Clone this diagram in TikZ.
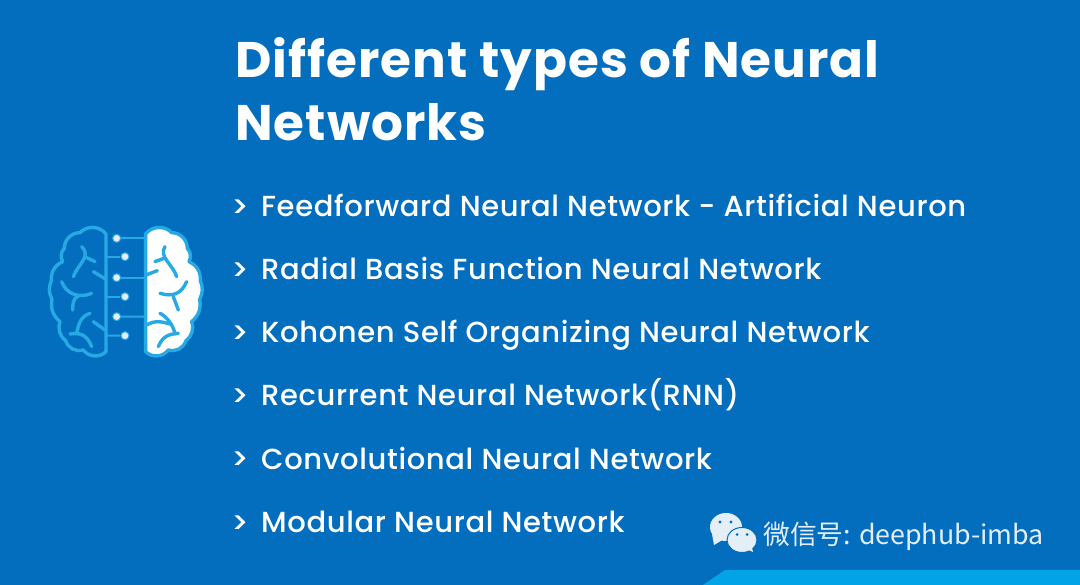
\documentclass[tikz,border=0pt]{standalone}
\usepackage{fontspec}
\setmainfont{Poppins}[UprightFont=* Medium,BoldFont=* Bold]
\newfontfamily\cjk{Noto Sans CJK SC}
\usetikzlibrary{positioning}
\definecolor{pagebg}{HTML}{036EBE}
\definecolor{wedgeblue}{HTML}{03A3E8}
\definecolor{brainblue}{HTML}{27A9E6}
\definecolor{markwhite}{HTML}{E3EEF7}
\newcommand{\brainoutline}{(228,72) to[bend right=50] (150,68) to[bend right=45] (103,115)
	to[bend right=35] (98,155) to[bend right=35] (64,212) to[bend right=25] (66,268)
	to[bend right=30] (90,335) to[bend right=35] (107,392) to[bend right=45] (160,420)
	to[bend right=50] (228,425)}
\begin{document}
\begin{tikzpicture}[
		x=1pt,
		y=-1pt,
		node distance=63pt,
		titletext/.style={
			text=white,
			font=\fontsize{50}{63}\selectfont\bfseries\addfontfeature{LetterSpace=2.1},
			align=left,
			inner sep=0pt,
			anchor=base west,
		},
		itemtext/.style={
			text=white,
			font=\fontsize{29}{30}\selectfont\addfontfeature{LetterSpace=2.2},
			inner sep=0pt,
			anchor=base west,
		},
		chevron/.style={
			text=white,
			font=\fontsize{30}{30}\selectfont,
			inner sep=0pt,
			anchor=base west,
		},
		brainline/.style={
			draw=brainblue,
			line width=3.4pt,
			line cap=round,
			line join=round,
		},
		braindot/.style={
			circle,
			fill=markwhite,
			draw=brainblue,
			line width=1pt,
			minimum size=8pt,
			inner sep=0pt,
		},
		]
		\fill[pagebg] (0,0) rectangle (1080,585);
		\fill[wedgeblue] (703,585) -- (725,570) -- (1080,570) -- (1080,585) -- cycle;
		\useasboundingbox (0,0) rectangle (1080,585);
		%% Title
		\node [titletext] (title) at (235,141) {Different types of Neural\\Networks};
		%% List
		\node [itemtext] (item1) at (261,217) {Feedforward Neural Network - Artificial Neuron};
		\node [itemtext, below=of item1.base west, anchor=base west] (item2) {Radial Basis Function Neural Network};
		\node [itemtext, below=of item2.base west, anchor=base west] (item3) {Kohonen Self Organizing Neural Network};
		\node [itemtext, below=of item3.base west, anchor=base west] (item4) {Recurrent Neural Network(RNN)};
		\node [itemtext, below=of item4.base west, anchor=base west] (item5) {Convolutional Neural Network};
		\node [itemtext, below=of item5.base west, anchor=base west] (item6) {Modular Neural Network};
		\foreach \i in {1,...,6}
			\node [chevron, left=12pt of item\i.base west, anchor=base east, yshift=-1pt] (mark\i) {>};
		%% Brain
		\begin{scope}[shift={(30,210)},scale=0.3333]
			\draw[brainline] \brainoutline -- cycle;
			\begin{scope}[shift={(575,0)},xscale=-1]
				\filldraw[brainline,fill=white] \brainoutline -- cycle;
			\end{scope}
			%% Path for folds
			\draw[brainline] (155,110) .. controls (185,140) and (145,160) .. (130,200);
			\draw[brainline] (168,142) -- (195,155);
			\draw[brainline] (190,185) -- (228,208);
			\draw[brainline] (95,215) .. controls (110,255) and (150,265) .. (185,250);
			\draw[brainline] (145,258) .. controls (130,265) and (128,280) .. (128,300);
			\draw[brainline] (180,310) .. controls (150,320) and (145,345) .. (140,370);
			\draw[brainline] (120,372) .. controls (160,365) and (175,385) .. (185,410);
			\draw[brainline] (190,335) -- (228,362);
			\draw[brainline] (405,110) .. controls (385,140) and (430,165) .. (440,200);
			\draw[brainline] (375,155) -- (402,145);
			\draw[brainline] (348,195) -- (382,182);
			\draw[brainline] (390,250) .. controls (430,262) and (455,250) .. (470,215);
			\draw[brainline] (430,260) -- (445,300);
			\draw[brainline] (390,310) .. controls (410,320) and (430,345) .. (435,372);
			\draw[brainline] (350,345) .. controls (375,330) and (395,335) .. (420,342);
			\draw[brainline] (385,410) .. controls (395,385) and (410,372) .. (445,370);
			%% Dots
			\node [braindot] (dot1) at (260,85) {};
			\node [braindot] (dot2) at (285,140) {};
			\node [braindot] (dot3) at (260,203) {};
			\node [braindot] (dot4) at (285,260) {};
			\node [braindot] (dot5) at (260,320) {};
			\node [braindot] (dot6) at (285,377) {};
			\coordinate (in1) at (345,85);
			\coordinate (in2) at (230,140);
			\coordinate (in3) at (345,203);
			\coordinate (in4) at (230,260);
			\coordinate (in5) at (345,320);
			\coordinate (in6) at (230,377);
			\foreach \i in {1,...,6}
				\draw[draw=brainblue,line width=2pt] (dot\i) -- (in\i);
		\end{scope}
		%% Watermark
		\fill[markwhite] (726,527) ellipse (16 and 14);
		\fill[markwhite] (712,534) -- (714,545) -- (724,539) -- cycle;
		\filldraw[fill=markwhite,draw=pagebg,line width=1pt] (742,540) ellipse (15 and 12.5);
		\fill[markwhite] (746,549) -- (753,552) -- (751,544) -- cycle;
		\fill[pagebg] (720,522) circle (1.7) (731,522) circle (1.7) (737,534.5) circle (1.5) (747,534.5) circle (1.5);
		\node [text=markwhite, font=\cjk\fontsize{26.8}{30}\selectfont, inner sep=0pt, anchor=base west] (mark) at (763,544) {微信号: deephub-imba};
	\end{tikzpicture}
\end{document}
